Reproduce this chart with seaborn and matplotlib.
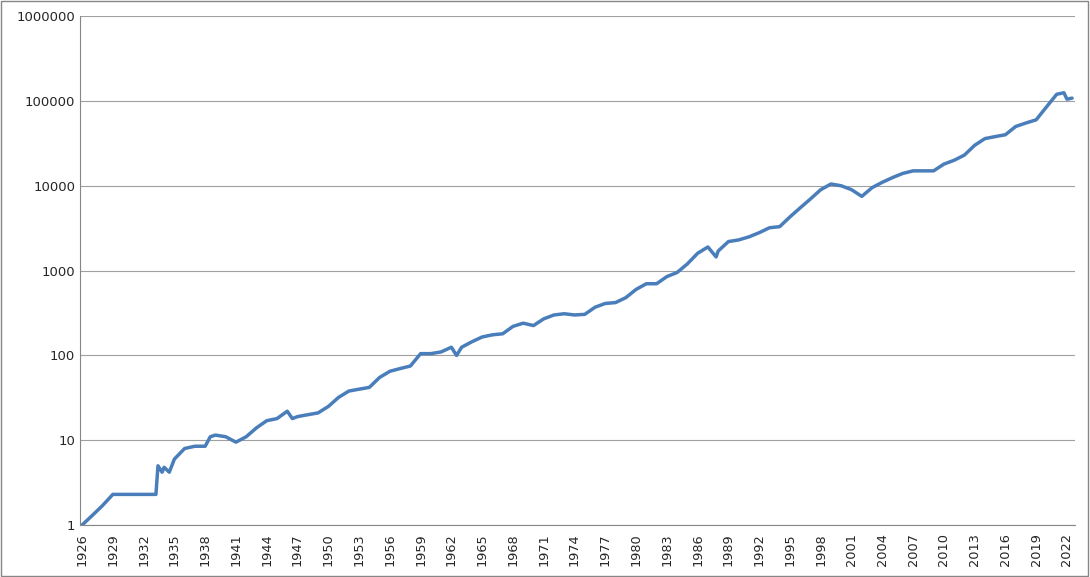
import numpy as np
import pandas as pd
import matplotlib
matplotlib.use("Agg")
import matplotlib.pyplot as plt
import matplotlib.ticker as mticker
import seaborn as sns

# approximate growth of $1
years = [1926, 1927, 1928, 1929, 1930, 1931, 1932, 1933.2, 1933.4, 1933.8, 1934, 1934.5,
         1935, 1936, 1937, 1938, 1938.5, 1939, 1940, 1941, 1942, 1943, 1944, 1945, 1946,
         1946.5, 1947, 1948, 1949, 1950, 1951, 1952, 1953, 1954, 1955, 1956, 1957, 1958,
         1959, 1960, 1961, 1962, 1962.5, 1963, 1964, 1965, 1966, 1967, 1968, 1969, 1970,
         1971, 1972, 1973, 1974, 1975, 1976, 1977, 1978, 1979, 1980, 1981, 1982, 1983,
         1984, 1985, 1986, 1987, 1987.8, 1988, 1989, 1990, 1991, 1992, 1993, 1994, 1995,
         1996, 1997, 1998, 1999, 2000, 2001, 2002, 2003, 2004, 2005, 2006, 2007, 2008,
         2009, 2010, 2011, 2012, 2013, 2014, 2015, 2016, 2017, 2018, 2019, 2020, 2021,
         2021.7, 2022, 2022.5]
values = [1.0, 1.3, 1.7, 2.3, 2.3, 2.3, 2.3, 2.3, 5.0, 4.2, 4.8, 4.2,
          6.0, 8.0, 8.5, 8.5, 11.0, 11.5, 11.0, 9.5, 11.0, 14.0, 17.0, 18.0, 22.0,
          18.0, 19.0, 20.0, 21.0, 25.0, 32.0, 38.0, 40.0, 42.0, 55.0, 65.0, 70.0, 75.0,
          105.0, 105.0, 110.0, 125.0, 100.0, 125.0, 145.0, 165.0, 175.0, 180.0, 220.0, 240.0, 225.0,
          270.0, 300.0, 310.0, 300.0, 305.0, 370.0, 410.0, 420.0, 480.0, 600.0, 700.0, 700.0, 850.0,
          950.0, 1200.0, 1600.0, 1900.0, 1450.0, 1700.0, 2200.0, 2300.0, 2500.0, 2800.0, 3200.0, 3300.0, 4300.0,
          5500.0, 7000.0, 9000.0, 10500.0, 10000.0, 9000.0, 7500.0, 9500.0, 11000.0, 12500.0, 14000.0, 15000.0, 15000.0,
          15000.0, 18000.0, 20000.0, 23000.0, 30000.0, 36000.0, 38000.0, 40000.0, 50000.0, 55000.0, 60000.0, 85000.0, 120000.0,
          125000.0, 105000.0, 108000.0]
tick_years = list(range(1926, 2023, 3))

df = pd.DataFrame({"year": years, "value": values})

sns.set_style("white")
fig = plt.figure(figsize=(10.9, 5.77), dpi=100)
ax = fig.add_axes([0.0734, 0.09, 0.913, 0.882])
sns.lineplot(data=df, x="year", y="value", ax=ax, color="#4A7EBB", linewidth=2.5)

ax.set_yscale("log")
ax.set_ylim(1, 1e6)
ax.yaxis.set_major_locator(mticker.LogLocator(base=10, numticks=10))
ax.yaxis.set_minor_locator(mticker.NullLocator())
ax.yaxis.set_major_formatter(mticker.FuncFormatter(lambda v, p: f"{int(round(v))}"))
ax.grid(axis="y", color="#A0A0A0", linewidth=0.8)
ax.set_axisbelow(True)

ax.set_xlim(1925.8, 2022.8)
ax.set_xticks(tick_years)
ax.set_xticklabels([str(y) for y in tick_years], rotation=90)
ax.xaxis.set_minor_locator(mticker.MultipleLocator(1))
ax.tick_params(axis="x", which="both", direction="out", length=4, color="#868686",
               labelsize=9.3, pad=2)
ax.tick_params(axis="y", length=0, labelsize=9.5)
ax.set_xlabel("")
ax.set_ylabel("")

for side in ["top", "right"]:
    ax.spines[side].set_visible(False)
for side in ["left", "bottom"]:
    ax.spines[side].set_color("#868686")

fig.patches.append(plt.Rectangle((0.0005, 0.001), 0.998, 0.997, transform=fig.transFigure,
                                 fill=False, edgecolor="#868686", linewidth=1))
fig.savefig("out.png", dpi=100)
